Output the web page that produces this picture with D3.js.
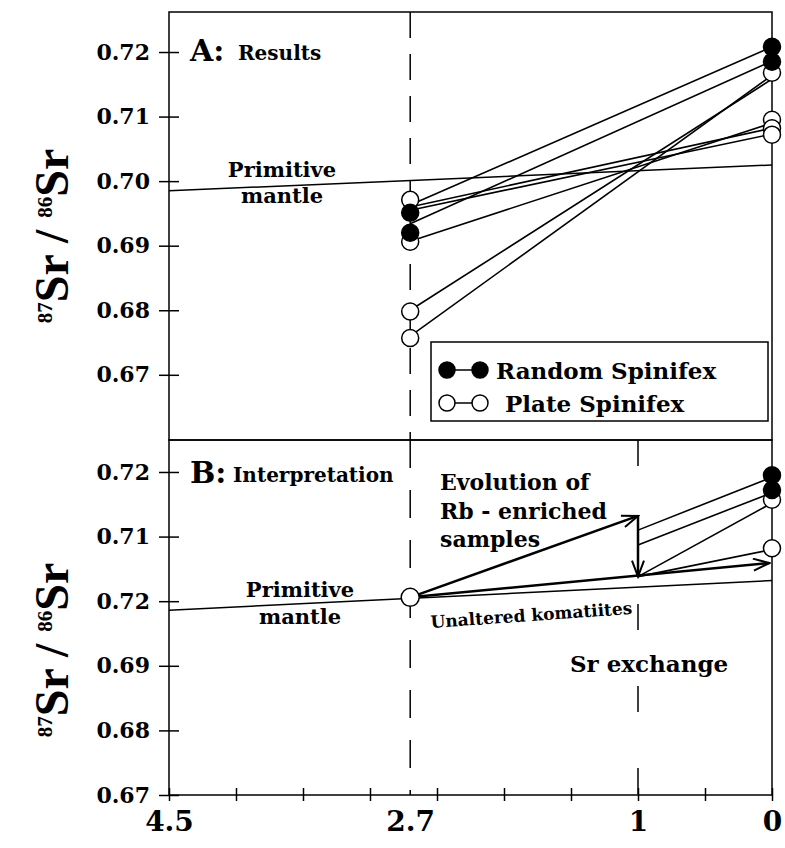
<!DOCTYPE html>
<html>
<head>
<meta charset="utf-8">
<script src="https://cdn.jsdelivr.net/npm/d3@7"></script>
<style>
  body { margin: 0; background: #fff; }
  text { font-family: "DejaVu Serif", serif; font-weight: bold; fill: #000; }
</style>
</head>
<body>
<div id="chart-area"></div>
<script>
var canvasWidth = 785
var canvasHeight = 848
var plot = {left: 169, right: 772, topA: 12, split: 440, bottomB: 795}

// ---- data ----
var xTicks = [4.5, 4, 3.5, 3, 2.5, 2, 1.5, 1, 0.5, 0]
var xLabels = [4.5, 2.7, 1, 0]
var yTicks = [0.72, 0.71, 0.70, 0.69, 0.68, 0.67]
var yLabelsA = ["0.72", "0.71", "0.70", "0.69", "0.68", "0.67"]
var yLabelsB = ["0.72", "0.71", "0.72", "0.69", "0.68", "0.67"]

// panel A : results
var mantleA = [[4.5, 0.6985], [0, 0.7025]]
var leftOpenA = [0.6971, 0.6906, 0.6798, 0.6757]
var leftFilledA = [0.6951, 0.6920]
var rightOpenA = [0.7168, 0.7095, 0.7082, 0.7072]
var rightFilledA = [0.7208, 0.7185]
var linksA = [[0.6963, 0.7208], [0.6934, 0.7186], [0.6960, 0.7082], [0.6955, 0.7073],
              [0.6907, 0.7090], [0.6800, 0.7158], [0.6760, 0.7164]]

// panel B : interpretation
var mantleB = [[4.5, 0.6986], [0, 0.7032]]
var startB = [2.7, 0.7006]
var rbArrow = [[2.7, 0.7006], [1, 0.7132]]
var exchArrow = [[1, 0.7132], [1, 0.7038]]
var unaltArrow = [[2.7, 0.7006], [0.02, 0.7059]]
var linksB = [[0.7110, 0.7192], [0.7087, 0.7168], [0.7038, 0.7152], [0.7038, 0.7080]]
var rightFilledB = [0.7195, 0.7172]
var rightOpenB = [0.7157, 0.7082]

var svg = d3.select("#chart-area")
  .append("svg")
  .attr("width", canvasWidth)
  .attr("height", canvasHeight)

var x = d3.scaleLinear().domain([4.5, 0]).range([plot.left, plot.right])
var yA = d3.scaleLinear().domain([0.6599, 0.7262]).range([plot.split, plot.topA])
var yB = d3.scaleLinear().domain([0.67, 0.72495]).range([plot.bottomB, plot.split])

var defs = svg.append("defs")
defs.append("marker")
  .attr("id", "head")
  .attr("viewBox", "0 0 20 14")
  .attr("markerUnits", "userSpaceOnUse")
  .attr("markerWidth", 20)
  .attr("markerHeight", 14)
  .attr("refX", 18)
  .attr("refY", 7)
  .attr("orient", "auto")
  .append("path")
    .attr("d", "M2,1 L18,7 L2,13")
    .attr("fill", "none")
    .attr("stroke", "#000")
    .attr("stroke-width", 2)

var line = function(sc) {
  return d3.line().x(function(d){ return x(d[0]) }).y(function(d){ return sc(d[1]) })
}

// frames
svg.append("rect")
  .attr("x", plot.left).attr("y", plot.topA)
  .attr("width", plot.right - plot.left).attr("height", plot.split - plot.topA)
  .attr("fill", "none").attr("stroke", "#000").attr("stroke-width", 1.5)
svg.append("rect")
  .attr("x", plot.left).attr("y", plot.split)
  .attr("width", plot.right - plot.left).attr("height", plot.bottomB - plot.split)
  .attr("fill", "none").attr("stroke", "#000").attr("stroke-width", 1.5)

// y axes
function yAxis(sc, labels) {
  var g = svg.append("g")
    .attr("transform", "translate(" + plot.left + ",0)")
    .call(d3.axisLeft(sc).tickValues(yTicks).tickSize(10).tickPadding(9)
      .tickFormat(function(d, i){ return labels[i] }))
  g.select(".domain").remove()
  g.selectAll(".tick line").attr("x1", 10).attr("stroke-width", 1.5)
  g.selectAll(".tick text")
    .style("font-family", "DejaVu Serif").style("font-weight", "bold")
    .attr("font-size", "22px")
}
yAxis(yA, yLabelsA)
yAxis(yB, yLabelsB)

// x axis
var xg = svg.append("g")
  .attr("transform", "translate(0," + plot.bottomB + ")")
  .call(d3.axisBottom(x).tickValues(xTicks).tickSize(6).tickFormat(""))
xg.select(".domain").remove()
xg.selectAll(".tick line").attr("y1", -7).attr("stroke-width", 1.5)

var xl = svg.append("g")
  .attr("transform", "translate(0," + plot.bottomB + ")")
  .call(d3.axisBottom(x).tickValues(xLabels).tickSize(0).tickPadding(16)
    .tickFormat(function(d){ return String(d) }))
xl.select(".domain").remove()
xl.selectAll(".tick text")
  .style("font-family", "DejaVu Serif").style("font-weight", "bold")
  .attr("font-size", "28px")

// dashed reference lines
svg.append("line")
  .attr("x1", x(2.7)).attr("x2", x(2.7)).attr("y1", plot.topA).attr("y2", plot.split)
  .attr("stroke", "#000").attr("stroke-width", 1.5).attr("stroke-dasharray", "26,16")
svg.append("line")
  .attr("x1", x(2.7)).attr("x2", x(2.7)).attr("y1", plot.split).attr("y2", plot.bottomB)
  .attr("stroke", "#000").attr("stroke-width", 1.5).attr("stroke-dasharray", "28,22")
svg.append("line")
  .attr("x1", x(1)).attr("x2", x(1)).attr("y1", plot.split).attr("y2", plot.bottomB)
  .attr("stroke", "#000").attr("stroke-width", 1.5).attr("stroke-dasharray", "26,56")

// ---- panel A ----
svg.append("path").attr("d", line(yA)(mantleA))
  .attr("fill", "none").attr("stroke", "#000").attr("stroke-width", 1.5)

svg.append("g").selectAll("path")
  .data(linksA)
  .enter().append("path")
    .attr("d", function(d){ return line(yA)([[2.7, d[0]], [0, d[1]]]) })
    .attr("fill", "none").attr("stroke", "#000").attr("stroke-width", 1.6)

function dots(sc, xv, vals, filled, r) {
  svg.append("g").selectAll("circle")
    .data(vals)
    .enter().append("circle")
      .attr("cx", x(xv))
      .attr("cy", function(d){ return sc(d) })
      .attr("r", r)
      .attr("fill", filled ? "#000" : "#fff")
      .attr("stroke", "#000")
      .attr("stroke-width", 1.5)
}
dots(yA, 2.7, leftOpenA, false, 8.5)
dots(yA, 2.7, leftFilledA, true, 8.5)
dots(yA, 0, rightOpenA, false, 8.5)
dots(yA, 0, rightFilledA, true, 8.5)

svg.append("text").attr("x", 190).attr("y", 61).attr("font-size", "30px").text("A:")
svg.append("text").attr("x", 238).attr("y", 60).attr("font-size", "20px").text("Results")
svg.append("text").attr("x", 282).attr("y", 177).attr("font-size", "21px")
  .attr("text-anchor", "middle").text("Primitive")
svg.append("text").attr("x", 282).attr("y", 203).attr("font-size", "21px")
  .attr("text-anchor", "middle").text("mantle")

// legend
var legend = svg.append("g")
legend.append("rect")
  .attr("x", 431).attr("y", 342).attr("width", 337).attr("height", 79)
  .attr("fill", "#fff").attr("stroke", "#000").attr("stroke-width", 1.5)
var legendItems = [{name: "Random Spinifex", filled: true, tx: 496}, {name: "Plate Spinifex", filled: false, tx: 505}]
legendItems.forEach(function(d, i) {
  var cy = 370 + i * 33
  legend.append("line").attr("x1", 447).attr("x2", 480).attr("y1", cy).attr("y2", cy)
    .attr("stroke", "#000").attr("stroke-width", 1.5)
  ;[447, 480].forEach(function(cx) {
    legend.append("circle").attr("cx", cx).attr("cy", cy).attr("r", 8)
      .attr("fill", d.filled ? "#000" : "#fff").attr("stroke", "#000").attr("stroke-width", 1.5)
  })
  legend.append("text").attr("x", d.tx).attr("y", cy + 9).attr("font-size", "23px").text(d.name)
})

// ---- panel B ----
svg.append("path").attr("d", line(yB)(mantleB))
  .attr("fill", "none").attr("stroke", "#000").attr("stroke-width", 1.5)

svg.append("g").selectAll("path")
  .data(linksB)
  .enter().append("path")
    .attr("d", function(d){ return line(yB)([[1, d[0]], [0, d[1]]]) })
    .attr("fill", "none").attr("stroke", "#000").attr("stroke-width", 1.6)

;[rbArrow, exchArrow, unaltArrow].forEach(function(a) {
  svg.append("path").attr("d", line(yB)(a))
    .attr("fill", "none").attr("stroke", "#000").attr("stroke-width", 2.5)
    .attr("marker-end", "url(#head)")
})

dots(yB, startB[0], [startB[1]], false, 9)
dots(yB, 0, rightOpenB, false, 8.5)
dots(yB, 0, rightFilledB, true, 8.5)

svg.append("text").attr("x", 190).attr("y", 483).attr("font-size", "30px").text("B:")
svg.append("text").attr("x", 233).attr("y", 482).attr("font-size", "20px").text("Interpretation")
svg.append("text").attr("x", 300).attr("y", 597).attr("font-size", "21px")
  .attr("text-anchor", "middle").text("Primitive")
svg.append("text").attr("x", 300).attr("y", 624).attr("font-size", "21px")
  .attr("text-anchor", "middle").text("mantle")

var evo = ["Evolution of", "Rb - enriched", "samples"]
evo.forEach(function(t, i) {
  svg.append("text").attr("x", 440).attr("y", 490 + i * 28.5).attr("font-size", "22px").text(t)
})
svg.append("text")
  .attr("transform", "translate(431,628) rotate(-4)")
  .attr("font-size", "17px").text("Unaltered komatiites")
svg.append("text").attr("x", 570).attr("y", 672).attr("font-size", "23px").text("Sr exchange")

// y titles
function yTitle(cy) {
  var t = svg.append("text")
    .attr("transform", "translate(67," + cy + ") rotate(-90)")
    .attr("text-anchor", "middle")
    .style("font-family", "'Liberation Serif', serif")
    .attr("font-size", "48px")
  t.append("tspan").attr("font-size", "21px").attr("dy", "-0.7em").text("87")
  t.append("tspan").attr("dy", "16").text("Sr")
  t.append("tspan").text(" / ")
  t.append("tspan").attr("font-size", "21px").attr("dy", "-16").text("86")
  t.append("tspan").attr("dy", "16").text("Sr")
}
yTitle(236)
yTitle(650)
</script>
</body>
</html>
